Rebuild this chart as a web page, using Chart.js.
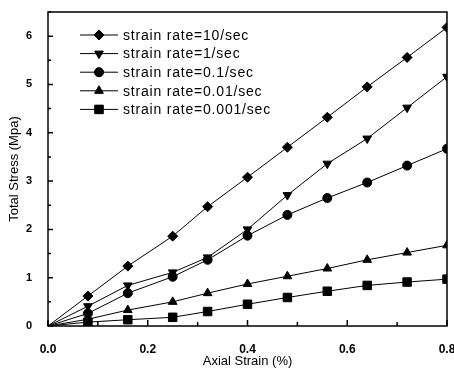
<!DOCTYPE html>
<html>
<head>
<meta charset="utf-8">
<script src="https://cdn.jsdelivr.net/npm/chart.js@4"></script>
<style>
  html, body { margin: 0; padding: 0; background: #fff; }
  #wrap { width: 454px; height: 372px; }
</style>
</head>
<body>
<div id="wrap"><canvas id="stressChart" width="454" height="372"></canvas></div>
<script>
// Axial strain (%) at each reading
const strain = [0, 0.08, 0.16, 0.25, 0.32, 0.40, 0.48, 0.56, 0.64, 0.72, 0.80];

// Total stress (Mpa) for each strain rate
const rate10 = [0, 0.62, 1.24, 1.86, 2.47, 3.08, 3.70, 4.32, 4.95, 5.56, 6.18];
const rate1 = [0, 0.41, 0.84, 1.11, 1.42, 2.00, 2.71, 3.36, 3.88, 4.52, 5.16];
const rate01 = [0, 0.26, 0.68, 1.02, 1.37, 1.87, 2.30, 2.65, 2.97, 3.32, 3.67];
const rate001 = [0, 0.14, 0.33, 0.50, 0.68, 0.87, 1.03, 1.19, 1.37, 1.52, 1.67];
const rate0001 = [0, 0.08, 0.13, 0.18, 0.30, 0.45, 0.59, 0.72, 0.84, 0.91, 0.97];

const seriesLabels = [
  'strain rate=10/sec',
  'strain rate=1/sec',
  'strain rate=0.1/sec',
  'strain rate=0.01/sec',
  'strain rate=0.001/sec'
];

const xTicks = [0, 0.2, 0.4, 0.6, 0.8];
const yTicks = [0, 1, 2, 3, 4, 5, 6];

const FONT = 'Arial, "Liberation Sans", sans-serif';

function points(ys) {
  return strain.map((x, i) => ({ x: x, y: ys[i] }));
}

function makeSet(label, ys, style, radius, rotation) {
  return {
    label: label,
    data: points(ys),
    borderColor: '#000',
    backgroundColor: '#000',
    borderWidth: 1,
    pointStyle: style,
    pointRotation: rotation || 0,
    // no marker at the origin
    pointRadius: ys.map((v, i) => (i === 0 ? 0 : radius)),
    pointBorderWidth: 1,
    tension: 0
  };
}

// box frame with inward ticks on left and bottom
const framePlugin = {
  id: 'frame',
  afterDraw(chart) {
    const { ctx, chartArea: a, scales } = chart;
    ctx.save();
    ctx.strokeStyle = '#000';
    ctx.lineWidth = 1.5;
    ctx.strokeRect(a.left, a.top, a.right - a.left, a.bottom - a.top);
    ctx.beginPath();
    for (let v = 0; v <= 6.5; v += 0.5) {
      const y = scales.y.getPixelForValue(v);
      const len = Number.isInteger(v) ? 5 : 3;
      ctx.moveTo(a.left, y);
      ctx.lineTo(a.left + len, y);
    }
    for (let k = 0; k <= 8; k++) {
      const x = scales.x.getPixelForValue(k / 10);
      const len = k % 2 === 0 ? 6 : 4;
      ctx.moveTo(x, a.bottom);
      ctx.lineTo(x, a.bottom - len);
    }
    ctx.stroke();
    ctx.restore();
  }
};

// legend drawn inside the plot, top left
const innerLegend = {
  id: 'innerLegend',
  afterDraw(chart) {
    const ctx = chart.ctx;
    const x0 = 80, x1 = 118, textX = 123, top = 35, gap = 18.6;
    ctx.save();
    ctx.font = '14px ' + FONT;
    ctx.letterSpacing = '0.8px';
    ctx.textBaseline = 'middle';
    ctx.fillStyle = '#000';
    chart.data.datasets.forEach((ds, i) => {
      const y = top + i * gap;
      ctx.strokeStyle = '#000';
      ctx.lineWidth = 1;
      ctx.beginPath();
      ctx.moveTo(x0, y);
      ctx.lineTo(x1, y);
      ctx.stroke();
      Chart.helpers.drawPoint(ctx, {
        pointStyle: ds.pointStyle,
        rotation: ds.pointRotation,
        radius: ds.pointRadius[1],
        borderWidth: 1
      }, (x0 + x1) / 2, y);
      ctx.fill();
      ctx.fillText(ds.label, textX, y + 1);
    });
    ctx.restore();
  }
};

new Chart(document.getElementById('stressChart'), {
  type: 'line',
  data: {
    datasets: [
      makeSet(seriesLabels[0], rate10, 'rectRot', 5),
      makeSet(seriesLabels[1], rate1, 'triangle', 5, 180),
      makeSet(seriesLabels[2], rate01, 'circle', 4.5),
      makeSet(seriesLabels[3], rate001, 'triangle', 5),
      makeSet(seriesLabels[4], rate0001, 'rect', 6)
    ]
  },
  options: {
    responsive: false,
    animation: false,
    layout: { padding: { top: 12, right: 5, left: 0, bottom: 0 } },
    plugins: {
      legend: { display: false },
      tooltip: { enabled: false }
    },
    scales: {
      x: {
        type: 'linear',
        min: 0,
        max: 0.8,
        grid: { display: false },
        border: { display: false },
        afterBuildTicks: (s) => { s.ticks = xTicks.map(v => ({ value: v })); },
        afterFit: (s) => { s.height = 46; s.paddingLeft = 0; s.paddingRight = 0; },
        ticks: {
          color: '#000',
          padding: 8,
          maxRotation: 0,
          font: { family: FONT, size: 12, weight: 'bold' },
          callback: (v) => v.toFixed(1)
        },
        title: {
          display: true,
          text: 'Axial Strain (%)',
          color: '#000',
          padding: { top: 4, bottom: 3 },
          font: { family: FONT, size: 13 }
        }
      },
      y: {
        min: 0,
        max: 6.5,
        grid: { display: false },
        border: { display: false },
        afterBuildTicks: (s) => { s.ticks = yTicks.map(v => ({ value: v })); },
        afterFit: (s) => { s.width = 48; s.paddingTop = 0; s.paddingBottom = 0; },
        ticks: {
          color: '#000',
          padding: 8,
          font: { family: FONT, size: 11, weight: 'bold' },
          callback: (v) => String(v)
        },
        title: {
          display: true,
          text: 'Total Stress (Mpa)',
          color: '#000',
          padding: { top: 7, bottom: 4 },
          font: { family: FONT, size: 13 }
        }
      }
    }
  },
  plugins: [framePlugin, innerLegend]
});
</script>
</body>
</html>
